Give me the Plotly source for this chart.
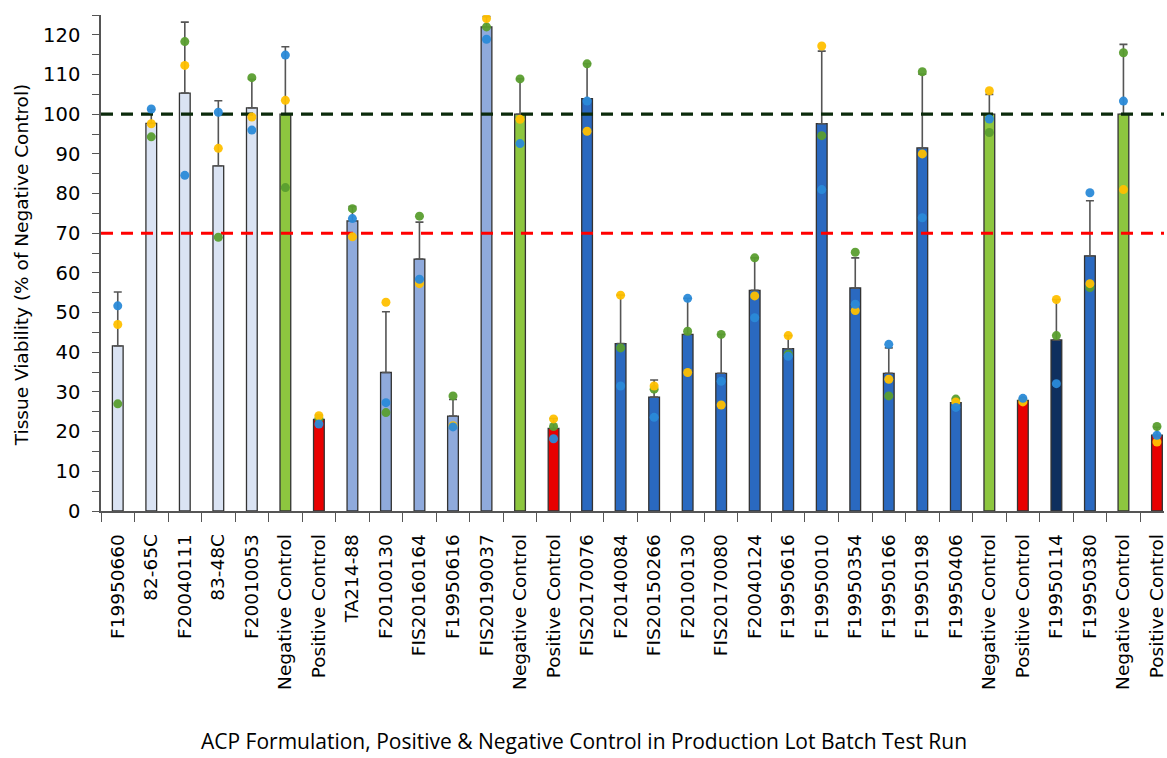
import plotly.graph_objects as go

categories = ["F19950660", "82-65C", "F20040111", "83-48C", "F20010053", "Negative Control",
              "Positive Control", "TA214-88", "F20100130", "FIS20160164", "F19950616", "FIS20190037",
              "Negative Control", "Positive Control", "FIS20170076", "F20140084", "FIS20150266",
              "F20100130", "FIS20170080", "F20040124", "F19950616", "F19950010", "F19950354",
              "F19950166", "F19950198", "F19950406", "Negative Control", "Positive Control",
              "F19950114", "F19950380", "Negative Control", "Positive Control"]

groups = ["lot_a", "lot_a", "lot_a", "lot_a", "lot_a", "neg", "pos",
          "lot_b", "lot_b", "lot_b", "lot_b", "lot_b", "neg", "pos",
          "lot_c", "lot_c", "lot_c", "lot_c", "lot_c", "lot_c", "lot_c", "lot_c", "lot_c",
          "lot_c", "lot_c", "lot_c", "neg", "pos", "lot_d", "lot_c", "neg", "pos"]

mean_viability = [41.6, 97.7, 105.3, 87.0, 101.6, 100.0, 23.1, 73.1, 34.9, 63.5, 23.9, 122.0,
                  100.0, 20.8, 103.9, 42.2, 28.7, 44.5, 34.7, 55.6, 40.9, 97.6, 56.2, 34.7,
                  91.5, 27.3, 100.0, 27.9, 43.1, 64.3, 100.0, 19.1]

sd_viability = [13.6, 3.5, 17.9, 16.4, 7.2, 17.0, 1.1, 3.6, 15.3, 9.3, 4.2, 2.6,
                8.9, 2.5, 8.8, 12.2, 4.3, 9.1, 9.8, 8.2, 3.3, 18.3, 7.6, 6.4,
                18.6, 1.0, 5.0, 0.5, 10.2, 13.9, 17.6, 2.0]

rep_blue = [51.7, 101.3, 84.6, 100.5, 96.0, 114.9, 21.9, 73.7, 27.3, 58.4, 21.2, 118.9,
            92.6, 18.2, 103.3, 31.5, 23.6, 53.6, 32.7, 48.7, 39.0, 81.0, 52.1, 42.0,
            73.9, 26.1, 98.8, 28.4, 32.1, 80.2, 103.3, 19.1]

rep_yellow = [47.0, 97.6, 112.3, 91.4, 99.3, 103.5, 24.0, 69.1, 52.6, 57.3, 21.5, 124.1,
              98.7, 23.2, 95.7, 54.4, 31.5, 34.9, 26.7, 54.2, 44.2, 117.2, 50.5, 33.2,
              90.0, 27.5, 105.9, 27.5, 53.3, 57.3, 81.0, 17.4]

rep_green = [27.0, 94.3, 118.3, 69.0, 109.2, 81.5, 23.3, 76.2, 24.8, 74.3, 29.0, 122.0,
             108.9, 21.3, 112.7, 41.1, 30.7, 45.3, 44.5, 63.8, 39.5, 94.6, 65.2, 29.0,
             110.7, 28.2, 95.4, 27.8, 44.2, 56.3, 115.5, 21.3]

negative_control_level = 100
acceptance_threshold = 70

y_ticks = [0, 10, 20, 30, 40, 50, 60, 70, 80, 90, 100, 110, 120]

group_colors = {"lot_a": "#dae3f3", "lot_b": "#8faadc", "lot_c": "#2a69c0",
                "lot_d": "#0f2f5e", "neg": "#8dc63f", "pos": "#e80000"}

x = list(range(len(categories)))
bar_colors = [group_colors[g] for g in groups]

fig = go.Figure()
fig.add_trace(go.Bar(
    x=x, y=mean_viability, width=0.32,
    marker=dict(color=bar_colors, line=dict(color="#333333", width=1.3)),
    error_y=dict(type="data", symmetric=False, array=sd_viability,
                 arrayminus=[0] * len(sd_viability), color="#555555", thickness=1.6, width=4),
    showlegend=False,
))

x_lo, x_hi = -0.5, len(categories) - 0.5
fig.add_trace(go.Scatter(x=[x_lo, x_hi], y=[negative_control_level] * 2, mode="lines",
                         line=dict(color="#0b2a0b", width=3.2, dash="12px,8px"), showlegend=False))
fig.add_trace(go.Scatter(x=[x_lo, x_hi], y=[acceptance_threshold] * 2, mode="lines",
                         line=dict(color="#ff0000", width=3.2, dash="12px,8px"), showlegend=False))

for vals, col in [(rep_green, "#5a9e2f"), (rep_yellow, "#ffc000"), (rep_blue, "#2a8ad8")]:
    fig.add_trace(go.Scatter(x=x, y=vals, mode="markers",
                             marker=dict(color=col, size=9, opacity=0.95), showlegend=False))

fig.update_layout(
    width=1167, height=758,
    margin=dict(l=101, r=0, t=15, b=247),
    plot_bgcolor="white", paper_bgcolor="white",
    xaxis=dict(
        range=[-0.5, 31.21], tickmode="array", tickvals=x, ticktext=categories,
        tickangle=-90, tickfont=dict(family="DejaVu Sans", size=18.5, color="#000000"),
        ticks="outside", ticklen=14, tickcolor="rgba(0,0,0,0)", ticklabeloverflow="allow",
        showline=True, linecolor="#555555", linewidth=1.5, showgrid=False, zeroline=False,
        minor=dict(ticks="outside", ticklen=9, tickwidth=1.3, tickcolor="#555555",
                   tick0=-0.5, dtick=1),
    ),
    yaxis=dict(
        range=[0, 125], tickmode="array", tickvals=y_ticks,
        tickfont=dict(family="DejaVu Sans", size=19.5, color="#000000"),
        ticks="outside", ticklen=7, tickwidth=1.3, tickcolor="#555555", ticklabelstandoff=8,
        showline=True, linecolor="#555555", linewidth=1.5, showgrid=False, zeroline=False,
        minor=dict(ticks="outside", ticklen=7, tickwidth=1.3, tickcolor="#555555", dtick=5),
    ),
    annotations=[
        dict(text="Tissue Viability (% of Negative Control)", xref="paper", yref="paper",
             x=-0.0741, y=0.496, textangle=-90, showarrow=False,
             font=dict(family="DejaVu Sans", size=18.5, color="#000000"),
             xanchor="center", yanchor="middle"),
        dict(text="ACP Formulation, Positive & Negative Control in Production Lot Batch Test Run",
             xref="paper", yref="paper", x=0.454, y=-0.464, showarrow=False,
             font=dict(family="Open Sans", size=21, color="#000000"),
             xanchor="center", yanchor="middle"),
    ],
)

fig.write_html(
    "out.html",
    config={"displayModeBar": False},
    post_script="document.body.style.margin='0';document.body.style.overflow='hidden';",
)
